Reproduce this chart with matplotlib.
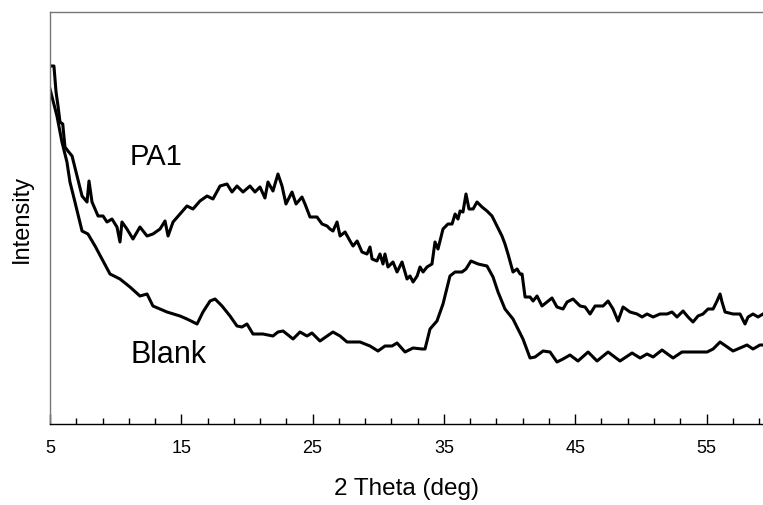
import matplotlib
matplotlib.use("Agg")
import matplotlib.pyplot as plt
from matplotlib.ticker import MultipleLocator

plt.rcParams['font.family'] = ['Liberation Sans', 'DejaVu Sans']

# 2-theta positions and intensities (arbitrary units)
pa1_theta = [5.13, 5.30, 5.46, 5.61, 5.76, 5.97, 6.14, 6.37, 6.68, 7.06, 7.44, 7.82, 7.97, 8.20,
             8.66, 9.04, 9.34, 9.72, 10.10, 10.33, 10.48, 10.86, 11.32, 11.85, 12.39, 12.84,
             13.38, 13.76, 13.99, 14.37, 14.90, 15.43, 15.89, 16.42, 16.96, 17.41, 17.95,
             18.48, 18.86, 19.24, 19.70, 20.23, 20.61, 20.99, 21.37, 21.60, 21.98, 22.36,
             22.67, 22.97, 23.43, 23.74, 24.19, 24.42, 24.80, 25.33, 25.72, 26.10, 26.32,
             26.55, 26.86, 27.09, 27.47, 27.85, 28.08, 28.39, 28.76, 29.14, 29.37, 29.53,
             29.90, 30.13, 30.36, 30.51, 30.74, 31.12, 31.43, 31.81, 32.19, 32.42, 32.65,
             32.96, 33.18, 33.41, 33.71, 34.09, 34.32, 34.55, 34.93, 35.31, 35.62, 35.85,
             36.07, 36.23, 36.45, 36.68, 36.91, 37.22, 37.52, 37.90, 38.28, 38.66, 39.04,
             39.42, 39.65, 39.88, 40.26, 40.57, 40.80, 40.95, 41.18, 41.56, 41.79, 42.09,
             42.47, 42.85, 43.23, 43.61, 44.07, 44.38, 44.83, 45.37, 45.75, 46.13, 46.51,
             47.12, 47.50, 47.88, 48.26, 48.64, 49.17, 49.71, 50.09, 50.47, 50.93, 51.46,
             51.99, 52.37, 52.75, 53.21, 53.59, 53.97, 54.35, 54.73, 55.11, 55.50, 55.80,
             56.03, 56.18, 56.41, 57.02, 57.55, 57.93, 58.16, 58.54, 58.92, 59.30]
pa1_int = [358, 358, 332, 318, 302, 300, 277, 273, 268, 248, 228, 222, 243, 222,
           208, 208, 202, 205, 197, 182, 202, 195, 185, 197, 188, 190,
           195, 203, 188, 202, 210, 218, 215, 223, 228, 225, 238,
           240, 232, 238, 232, 238, 232, 237, 226, 242, 233, 250,
           238, 220, 232, 220, 227, 220, 207, 207, 200, 198, 195,
           193, 202, 188, 192, 183, 178, 183, 172, 170, 177, 165,
           163, 170, 160, 170, 157, 162, 152, 162, 145, 148, 142,
           148, 157, 152, 157, 160, 182, 175, 195, 200, 200, 210,
           205, 213, 212, 230, 215, 215, 222, 217, 213, 208, 198,
           188, 180, 170, 152, 155, 150, 150, 127, 127, 123, 128,
           118, 122, 126, 117, 115, 122, 125, 118, 117, 110, 118,
           118, 123, 115, 103, 117, 112, 110, 107, 110, 107, 110,
           110, 112, 107, 113, 107, 102, 108, 110, 115, 115, 123,
           130, 122, 112, 110, 110, 100, 107, 110, 107, 110]

blank_theta = [5.00, 5.53, 5.91, 6.29, 6.52, 6.90, 7.44, 7.89, 8.43, 8.96, 9.57, 10.33, 11.09,
               11.85, 12.39, 12.84, 13.91, 14.90, 15.43, 16.20, 16.65, 17.19, 17.57, 18.10,
               18.71, 19.24, 19.62, 20.00, 20.46, 21.22, 21.98, 22.36, 22.75, 23.51, 24.04,
               24.57, 24.95, 25.56, 26.55, 27.09, 27.62, 28.61, 29.37, 29.98, 30.51, 31.05,
               31.43, 32.04, 32.65, 33.33, 33.56, 33.94, 34.47, 34.93, 35.46, 35.85, 36.38,
               36.68, 37.06, 37.60, 38.28, 38.74, 39.12, 39.65, 40.26, 40.64, 41.02, 41.56,
               41.94, 42.55, 43.08, 43.61, 44.07, 44.60, 45.21, 45.98, 46.66, 47.50, 48.41,
               49.33, 49.94, 50.47, 50.93, 51.61, 52.45, 53.13, 54.51, 55.04, 55.50, 56.03,
               57.02, 58.08, 58.54, 59.07, 59.30]
blank_int = [335, 308, 282, 262, 242, 222, 193, 190, 178, 165, 150, 145, 137,
             128, 130, 118, 112, 108, 105, 100, 112, 123, 125, 118,
             108, 98, 97, 100, 90, 90, 88, 92, 93, 85, 92,
             88, 91, 83, 92, 88, 82, 82, 78, 73, 78, 78,
             81, 72, 76, 75, 75, 95, 103, 120, 148, 152, 152,
             155, 163, 160, 158, 147, 132, 115, 105, 95, 85, 66,
             67, 73, 72, 62, 65, 69, 63, 72, 63, 72, 63,
             71, 66, 70, 67, 74, 66, 72, 72, 72, 75, 82,
             73, 79, 75, 79, 79]

x_ticks = [5, 15, 25, 35, 45, 55]
labels = ["PA1", "Blank"]

fig = plt.figure(figsize=(7.63, 5.06), dpi=100)
ax = fig.add_axes([50 / 763, 81 / 506, 713 / 763, 412 / 506])

ax.plot(pa1_theta, pa1_int, color='black', lw=2.2, solid_joinstyle='round')
ax.plot(blank_theta, blank_int, color='black', lw=2.2, solid_joinstyle='round')

ax.text(11.1, 268, labels[0], fontsize=21, va='center', ha='left')
ax.text(11.1, 70, labels[1], fontsize=22, va='center', ha='left')

ax.set_xlim(5, 59.3)
ax.set_ylim(0, 412)
ax.set_xticks(x_ticks)
ax.xaxis.set_minor_locator(MultipleLocator(2, offset=1))
ax.set_yticks([])
ax.tick_params(axis='x', which='major', direction='in', length=7, width=1, pad=11, labelsize=13)
ax.tick_params(axis='x', which='minor', direction='in', length=4, width=1)

ax.spines['right'].set_visible(False)
ax.spines['left'].set_color('#777777')
ax.spines['top'].set_color('#777777')
ax.spines['bottom'].set_color('black')
for s in ax.spines.values():
    s.set_linewidth(1.0)

ax.set_xlabel("2 Theta (deg)", fontsize=17.5, labelpad=15)
ax.set_ylabel("Intensity", fontsize=17, labelpad=12)

fig.savefig("out.png", dpi=100)
